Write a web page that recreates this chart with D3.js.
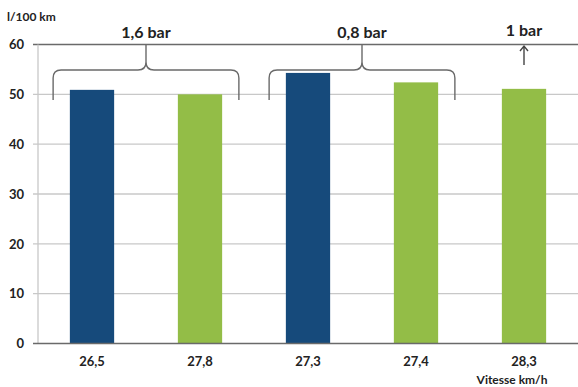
<!DOCTYPE html>
<html><head><meta charset="utf-8">
<script src="https://cdn.jsdelivr.net/npm/d3@7"></script>
<style>body{margin:0;background:#fff}svg{display:block}text{font-family:Lato,"Open Sans",sans-serif;font-weight:bold;fill:#222}</style>
</head><body><svg id="c" width="578" height="387"></svg>
<script>
const categories = ["26,5","27,8","27,3","27,4","28,3"];
const values = [50.9, 50.0, 54.3, 52.4, 51.1];
const barColors = ["#164a7b","#93bd47","#164a7b","#93bd47","#93bd47"];
const yTicks = [0,10,20,30,40,50,60];
const braces = [{label:"1,6 bar", from:0, to:1}, {label:"0,8 bar", from:2, to:3}];
const arrowLabel = {label:"1 bar", at:4};

const svg = d3.select("#c");
const mLeft = 38, mRight = 578, mTop = 44.5, mBottom = 343.5;
const x = d3.scaleBand().domain(categories).range([mLeft, mRight]).paddingInner(0.59).paddingOuter(0.295);
const y = d3.scaleLinear().domain([0,60]).range([mBottom, mTop]);

// gridlines
svg.append("g").selectAll("line").data(yTicks.filter(d=>d>0 && d<60)).join("line")
  .attr("x1", mLeft-5).attr("x2", mRight).attr("y1", d=>y(d)).attr("y2", d=>y(d))
  .attr("stroke", "#c8c8c8").attr("stroke-width", 1.3);
// top line
svg.append("line").attr("x1", mLeft-5).attr("x2", mRight).attr("y1", y(60)).attr("y2", y(60))
  .attr("stroke", "#6a6a6a").attr("stroke-width", 1.6);
// left axis line
svg.append("line").attr("x1", mLeft).attr("x2", mLeft).attr("y1", y(60)).attr("y2", y(0))
  .attr("stroke", "#c8c8c8").attr("stroke-width", 1.3);

// y labels
svg.append("g").selectAll("text").data(yTicks).join("text")
  .attr("x", 24).attr("y", d=>y(d)).attr("dy","0.36em").attr("text-anchor","end")
  .attr("font-size", 13).text(d=>d);

// bars
svg.append("g").selectAll("rect").data(values).join("rect")
  .attr("x", (d,i)=>x(categories[i])).attr("width", x.bandwidth())
  .attr("y", d=>y(d)).attr("height", d=>y(0)-y(d))
  .attr("fill", (d,i)=>barColors[i]);

// bottom axis
svg.append("line").attr("x1", mLeft-5).attr("x2", mRight).attr("y1", y(0)).attr("y2", y(0))
  .attr("stroke", "#6a6a6a").attr("stroke-width", 1.6);

// x labels
svg.append("g").selectAll("text").data(categories).join("text")
  .attr("x", d=>x(d)+x.bandwidth()/2).attr("y", 366).attr("text-anchor","middle")
  .attr("font-size", 13).text(d=>d);
svg.append("text").attr("x", 512).attr("y", 384).attr("text-anchor","middle")
  .attr("font-size", 12).text("Vitesse km/h");
svg.append("text").attr("x", 7).attr("y", 21).attr("font-size", 12).text("l/100 km");

// braces
const step = x.step();
braces.forEach(b => {
  const cx0 = x(categories[b.from]) + x.bandwidth()/2;
  const cx1 = x(categories[b.to]) + x.bandwidth()/2;
  const x0 = cx0 - step*0.36, x1 = cx1 + step*0.36;
  const xm = (x0+x1)/2;
  const yh = 70, yb = 100, r = 8, yt = y(60);
  const p = `M${x0},${yb} L${x0},${yh+r} Q${x0},${yh} ${x0+r},${yh} L${xm-r},${yh} Q${xm},${yh} ${xm},${yh-r} L${xm},${yt} ` +
            `M${xm},${yh-r} Q${xm},${yh} ${xm+r},${yh} L${x1-r},${yh} Q${x1},${yh} ${x1},${yh+r} L${x1},${yb}`;
  svg.append("path").attr("d", p).attr("fill","none").attr("stroke","#6a6a6a").attr("stroke-width",1.4);
  svg.append("text").attr("x", xm).attr("y", 38).attr("text-anchor","middle").attr("font-size", 16).text(b.label);
});
// arrow
{
  const ax = x(categories[arrowLabel.at]) + x.bandwidth()/2;
  svg.append("path").attr("d", `M${ax},${65} L${ax},${46} M${ax-4},${51} L${ax},${46} L${ax+4},${51}`)
    .attr("fill","none").attr("stroke","#444").attr("stroke-width",1.4);
  svg.append("text").attr("x", ax).attr("y", 36).attr("text-anchor","middle").attr("font-size", 16).text(arrowLabel.label);
}
</script></body></html>
